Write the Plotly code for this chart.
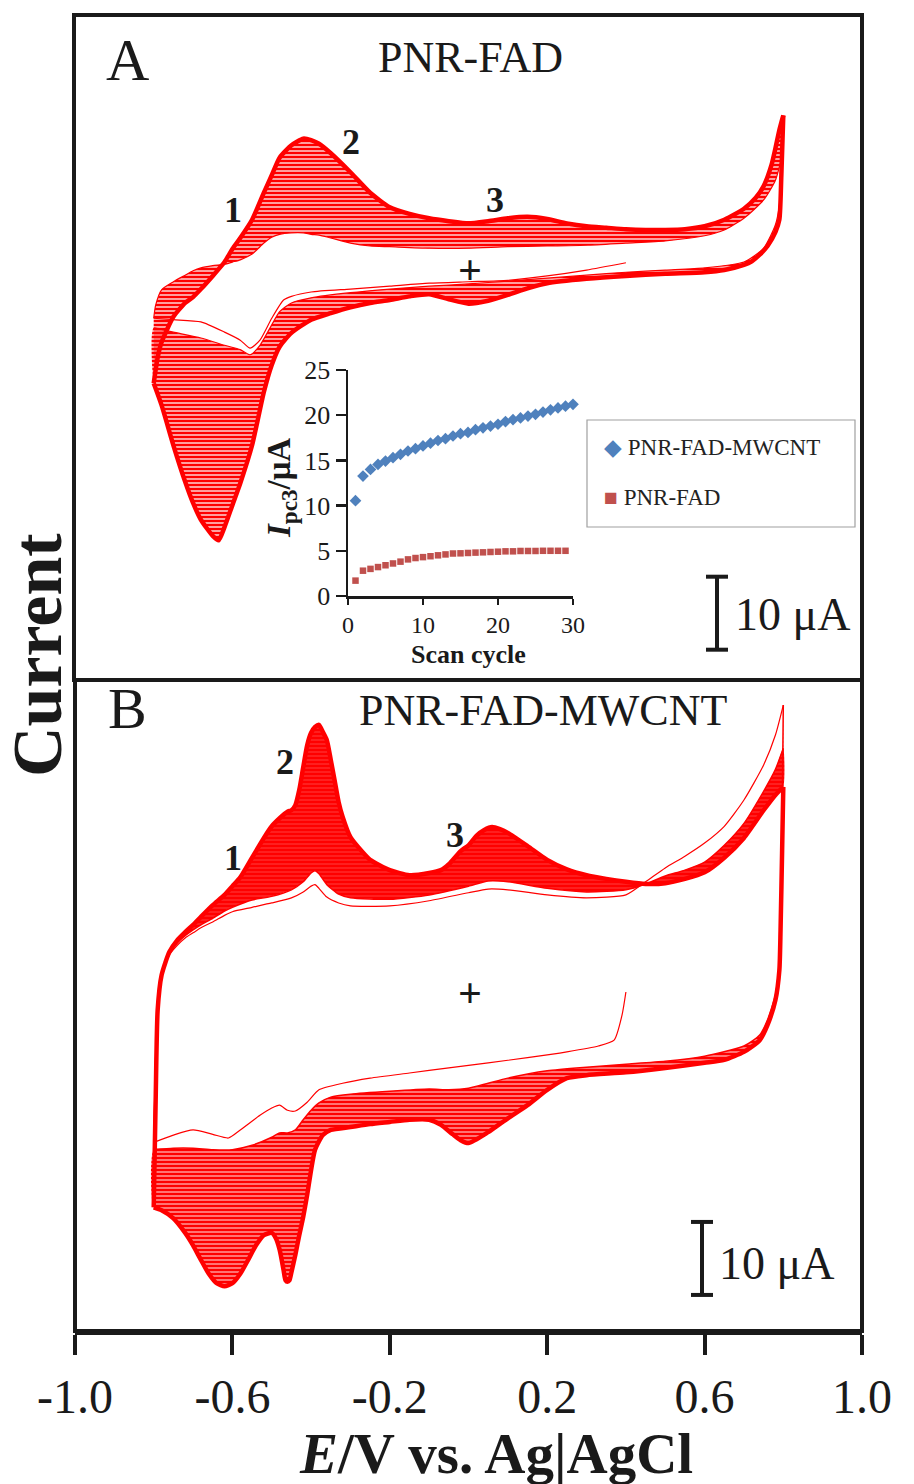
import plotly.graph_objects as go

W, H = 914, 1484
FONT = "Liberation Serif"
RED = "#ff0000"
INK = "#1a1a1a"

# ---------------- Panel A : PNR-FAD (E / V, I / uA) ----------------
A_up30_E = [-0.80, -0.79, -0.78, -0.75, -0.72, -0.70, -0.68, -0.65, -0.62, -0.60, -0.58, -0.55, -0.52, -0.50,
            -0.48, -0.45, -0.42, -0.40, -0.38, -0.35, -0.30, -0.25, -0.20, -0.15, -0.10, -0.05, 0.00, 0.05,
            0.10, 0.15, 0.20, 0.25, 0.30, 0.35, 0.40, 0.45, 0.50, 0.55, 0.60, 0.65, 0.70, 0.73, 0.75, 0.77,
            0.78, 0.79, 0.80]
A_up30_I = [-11.4, -7.9, -5.8, -2.3, -0.4, 0.4, 1.5, 3.3, 5.2, 7.0, 8.5, 11.0, 14.7, 17.1,
            19.5, 21.2, 22.1, 21.9, 21.4, 20.1, 17.5, 14.7, 12.7, 11.8, 11.2, 10.8, 10.5, 10.8,
            11.2, 11.4, 11.1, 10.5, 10.1, 9.9, 9.7, 9.6, 9.6, 9.7, 10.1, 11.0, 12.5, 14.0, 15.6, 18.5,
            20.8, 23.3, 25.3]

A_up1_E = [-0.80, -0.795, -0.78, -0.75, -0.72, -0.70, -0.68, -0.65, -0.62, -0.60, -0.58, -0.55, -0.52, -0.50,
           -0.48, -0.45, -0.42, -0.40, -0.38, -0.35, -0.30, -0.25, -0.20, -0.10, 0.00, 0.10, 0.20, 0.30,
           0.40, 0.50, 0.60, 0.65, 0.70, 0.75, 0.78, 0.80]
A_up1_I = [-2.5, -0.7, 1.4, 2.5, 3.4, 4.0, 4.4, 4.7, 4.9, 5.2, 5.5, 6.3, 7.8, 8.6,
           9.0, 9.2, 9.2, 9.0, 8.9, 8.5, 7.8, 7.4, 7.3, 7.1, 7.1, 7.3, 7.4, 7.5,
           7.8, 8.1, 8.8, 9.6, 11.2, 13.7, 16.4, 20.5]

A_lo30_E = [0.80, 0.795, 0.79, 0.78, 0.76, 0.74, 0.72, 0.70, 0.65, 0.60, 0.50, 0.40, 0.30, 0.20, 0.15,
            0.10, 0.05, 0.00, -0.05, -0.10, -0.15, -0.20, -0.25, -0.30, -0.35, -0.40, -0.45, -0.48, -0.50,
            -0.52, -0.55, -0.58, -0.60, -0.62, -0.635, -0.65, -0.68, -0.70, -0.72, -0.75, -0.78, -0.80]
A_lo30_I = [25.3, 17.0, 11.0, 9.3, 7.4, 6.2, 5.3, 4.8, 4.1, 3.8, 3.6, 3.3, 2.9, 2.3, 1.6,
            0.7, -0.1, -0.5, 0.1, 0.8, 0.5, 0.0, -0.4, -1.0, -1.8, -2.7, -4.5, -6.4, -8.9,
            -12.6, -19.9, -25.1, -28.1, -31.1, -32.9, -32.3, -30.1, -27.8, -24.9, -19.9, -14.4, -11.4]

A_lo2_E = [0.80, 0.79, 0.78, 0.75, 0.70, 0.60, 0.50, 0.40, 0.30, 0.20, 0.10, 0.00, -0.10, -0.20, -0.30,
           -0.40, -0.45, -0.48, -0.50, -0.53, -0.555, -0.58, -0.62, -0.68, -0.75, -0.80]
A_lo2_I = [20.5, 13.0, 10.3, 7.1, 5.2, 4.4, 4.1, 3.8, 3.4, 3.0, 2.6, 2.2, 1.9, 1.5, 1.0,
           0.3, -0.4, -1.6, -3.4, -6.2, -7.5, -6.8, -6.2, -5.2, -4.4, -3.8]

A_lo1_E = [0.40, 0.30, 0.20, 0.10, 0.00, -0.10, -0.20, -0.30, -0.40, -0.45, -0.47, -0.50, -0.53, -0.555,
           -0.58, -0.62, -0.68, -0.75, -0.80]
A_lo1_I = [5.1, 4.1, 3.3, 2.7, 2.5, 2.3, 1.9, 1.5, 1.1, 0.5, 0.0, -2.5, -5.5, -6.6,
           -5.5, -4.4, -3.0, -2.7, -2.5]

# ---------------- Panel B : PNR-FAD-MWCNT ----------------
B_up30_E = [-0.80, -0.795, -0.79, -0.78, -0.76, -0.74, -0.72, -0.70, -0.68, -0.65,
            -0.62, -0.60, -0.58, -0.55, -0.52, -0.50, -0.48, -0.46, -0.45, -0.44,
            -0.43, -0.42, -0.41, -0.40, -0.39, -0.38, -0.37, -0.36, -0.35, -0.34,
            -0.33, -0.32, -0.30, -0.27, -0.25, -0.20, -0.15, -0.10, -0.07, -0.05,
            -0.02, 0.00, 0.02, 0.04, 0.06, 0.08, 0.10, 0.15, 0.20, 0.25,
            0.30, 0.35, 0.40, 0.45, 0.50, 0.55, 0.60, 0.65, 0.70, 0.75,
            0.78, 0.80]
B_up30_I = [-28.4, -13.7, -1.4, 3.4, 6.6, 8.2, 9.3, 10.3, 11.4, 13.0,
            14.4, 15.6, 16.8, 19.5, 22.2, 23.8, 24.9, 25.8, 26.0, 26.7,
            28.8, 31.9, 34.9, 36.6, 37.4, 37.7, 36.7, 35.6, 32.9, 30.0,
            27.1, 25.1, 22.3, 20.3, 19.2, 17.8, 17.1, 17.4, 17.8, 18.6,
            20.4, 21.2, 22.5, 23.3, 23.7, 23.4, 22.9, 21.1, 19.2, 17.9,
            17.1, 16.6, 16.2, 15.9, 16.0, 16.6, 17.5, 19.5, 22.2, 26.0,
            28.1, 29.2]

B_up1_E = [-0.80, -0.795, -0.79, -0.78, -0.76, -0.74, -0.72, -0.70, -0.68, -0.65,
           -0.62, -0.60, -0.55, -0.50, -0.45, -0.42, -0.40, -0.39, -0.38, -0.36,
           -0.33, -0.30, -0.20, -0.10, 0.00, 0.05, 0.10, 0.20, 0.30, 0.40,
           0.45, 0.50, 0.55, 0.60, 0.65, 0.70, 0.75, 0.78, 0.80]
B_up1_I = [-19.5, -6.8, 0.0, 3.4, 6.2, 7.5, 8.5, 9.2, 9.9, 10.7,
           11.6, 12.1, 12.7, 13.3, 14.0, 14.8, 15.6, 15.8, 15.3, 14.1,
           13.3, 12.9, 12.9, 13.6, 14.7, 15.2, 15.1, 14.4, 14.0, 14.4,
           16.2, 18.1, 19.7, 21.5, 23.8, 27.4, 32.2, 36.3, 40.4]

B_up2_E = [-0.80, -0.795, -0.79, -0.78, -0.76, -0.74, -0.72, -0.70, -0.68, -0.65,
           -0.62, -0.60, -0.55, -0.50, -0.45, -0.42, -0.40, -0.39, -0.38, -0.36,
           -0.33, -0.30, -0.20, -0.10, 0.00, 0.05, 0.10, 0.20, 0.30, 0.40,
           0.45, 0.50, 0.55, 0.60, 0.65, 0.70, 0.75, 0.78, 0.80]
B_up2_I = [-20.5, -8.2, -0.7, 3.4, 6.4, 7.8, 8.8, 9.6, 10.3, 11.2,
           12.2, 12.7, 13.7, 14.2, 15.1, 16.2, 17.4, 17.7, 17.3, 15.8,
           14.5, 14.0, 13.8, 14.4, 15.6, 16.3, 16.2, 15.3, 14.8, 15.1,
           15.9, 17.0, 17.8, 18.9, 21.2, 24.2, 28.6, 31.6, 34.5]

B_lo30_E = [0.80, 0.797, 0.793, 0.79, 0.78, 0.76, 0.74, 0.70, 0.65, 0.60,
            0.50, 0.40, 0.30, 0.25, 0.20, 0.15, 0.10, 0.05, 0.00, -0.02,
            -0.04, -0.07, -0.10, -0.15, -0.20, -0.25, -0.30, -0.35, -0.37, -0.39,
            -0.41, -0.42, -0.43, -0.44, -0.45, -0.455, -0.46, -0.465, -0.47, -0.48,
            -0.49, -0.50, -0.52, -0.54, -0.56, -0.58, -0.60, -0.62, -0.64, -0.66,
            -0.68, -0.70, -0.72, -0.75, -0.78, -0.80]
B_lo30_I = [29.2, 20.5, 9.6, 4.1, 0.0, -3.4, -5.5, -7.1, -8.2, -8.6,
            -9.3, -9.9, -10.3, -10.7, -12.3, -14.4, -16.2, -18.1, -19.6, -19.2,
            -18.4, -17.1, -16.4, -16.4, -16.7, -17.0, -17.4, -17.8, -18.5, -20.5,
            -26.7, -29.7, -32.2, -34.9, -37.3, -38.4, -38.6, -38.4, -37.0, -34.2,
            -32.6, -31.9, -32.2, -33.6, -35.6, -37.5, -38.8, -39.2, -38.8, -37.5,
            -35.6, -33.6, -31.9, -29.9, -28.8, -28.4]

B_lo2_E = [0.80, 0.79, 0.78, 0.76, 0.74, 0.70, 0.60, 0.50, 0.40, 0.30,
           0.20, 0.10, 0.05, 0.00, -0.05, -0.10, -0.20, -0.30, -0.35, -0.38,
           -0.40, -0.42, -0.44, -0.46, -0.48, -0.50, -0.55, -0.60, -0.65, -0.70,
           -0.75, -0.80]
B_lo2_I = [40.4, 5.5, 0.7, -2.7, -4.8, -6.3, -7.7, -8.4, -8.8, -9.2,
           -9.7, -10.7, -11.4, -12.1, -12.3, -12.2, -12.5, -12.9, -13.3, -14.1,
           -15.1, -16.4, -17.8, -18.2, -18.2, -18.8, -19.9, -20.5, -20.5, -20.3,
           -20.3, -20.5]

B_lo1_E = [0.40, 0.39, 0.37, 0.33, 0.25, 0.15, 0.05, -0.05, -0.15, -0.25,
           -0.32, -0.38, -0.41, -0.44, -0.46, -0.48, -0.50, -0.53, -0.58, -0.61,
           -0.65, -0.70, -0.75, -0.80]
B_lo1_I = [1.1, -2.1, -5.5, -6.3, -7.1, -7.9, -8.6, -9.3, -10.0, -10.7,
           -11.4, -12.3, -14.0, -15.2, -15.1, -14.4, -14.8, -15.8, -17.8, -18.9,
           -18.4, -17.8, -18.5, -19.5]

# ---------------- Inset : Ipc3 vs scan cycle ----------------
cyc_mwcnt = list(range(1, 31))
ipc3_mwcnt = [10.55, 13.27, 14.0, 14.56, 14.93, 15.3, 15.67, 16.04, 16.3, 16.6,
              16.9, 17.2, 17.4, 17.7, 17.96, 18.1, 18.4, 18.6, 18.8, 19.0,
              19.3, 19.5, 19.7, 19.9, 20.1, 20.35, 20.6, 20.8, 21.0, 21.2]
cyc_fad = list(range(1, 30))
ipc3_fad = [1.7, 2.8, 3.0, 3.2, 3.4, 3.6, 3.8, 4.05, 4.2, 4.3,
            4.4, 4.5, 4.6, 4.7, 4.72, 4.76, 4.8, 4.83, 4.87, 4.9,
            4.94, 4.94, 4.98, 4.98, 4.98, 5.0, 5.0, 5.0, 5.0]

xticks_main = [-1.0, -0.6, -0.2, 0.2, 0.6, 1.0]
xticklabels_main = ["-1.0", "-0.6", "-0.2", "0.2", "0.6", "1.0"]


def px(x):
    return x / W


def py(y):
    return 1 - y / H


fig = go.Figure()


def band(E_out, I_out, E_in, I_in, xa, ya, solidity, bg):
    fig.add_trace(go.Scatter(
        x=list(E_out) + list(E_in)[::-1], y=list(I_out) + list(I_in)[::-1],
        mode="lines", line=dict(width=0, shape="spline", smoothing=0.6),
        fill="toself", fillcolor=bg,
        fillpattern=dict(shape="-", size=4, solidity=solidity, fgcolor=RED, bgcolor=bg, fillmode="replace"),
        xaxis=xa, yaxis=ya, hoverinfo="skip", showlegend=False))


def curve(E, I, xa, ya, w):
    fig.add_trace(go.Scatter(
        x=E, y=I, mode="lines", line=dict(color=RED, width=w, shape="spline", smoothing=0.6),
        xaxis=xa, yaxis=ya, hoverinfo="skip", showlegend=False))


# Panel A
band(A_up30_E, A_up30_I, A_up1_E, A_up1_I, "x", "y", 0.5, "rgba(255,0,0,0.38)")
band(A_lo30_E, A_lo30_I, A_lo2_E, A_lo2_I, "x", "y", 0.5, "rgba(255,0,0,0.38)")
curve(A_up30_E, A_up30_I, "x", "y", 4.5)
curve(A_lo30_E, A_lo30_I, "x", "y", 4.5)
curve(A_up1_E, A_up1_I, "x", "y", 1.2)
curve(A_lo2_E, A_lo2_I, "x", "y", 1.2)
curve(A_lo1_E, A_lo1_I, "x", "y", 1.2)

# Panel B
band(B_up30_E, B_up30_I, B_up2_E, B_up2_I, "x2", "y2", 0.7, "rgba(255,0,0,0.8)")
band(B_lo30_E, B_lo30_I, B_lo2_E, B_lo2_I, "x2", "y2", 0.55, "rgba(255,0,0,0.5)")
curve(B_up30_E, B_up30_I, "x2", "y2", 4.5)
curve(B_lo30_E, B_lo30_I, "x2", "y2", 4.5)
curve(B_up2_E, B_up2_I, "x2", "y2", 1.5)
curve(B_lo2_E, B_lo2_I, "x2", "y2", 1.5)
curve(B_up1_E, B_up1_I, "x2", "y2", 1.2)
curve(B_lo1_E, B_lo1_I, "x2", "y2", 1.2)

# Inset
fig.add_trace(go.Scatter(x=cyc_mwcnt, y=ipc3_mwcnt, mode="markers", name="PNR-FAD-MWCNT",
                         marker=dict(symbol="diamond", size=9, color="#4f81bd"),
                         xaxis="x3", yaxis="y3", cliponaxis=False, showlegend=False))
fig.add_trace(go.Scatter(x=cyc_fad, y=ipc3_fad, mode="markers", name="PNR-FAD",
                         marker=dict(symbol="square", size=6.5, color="#c0504d"),
                         xaxis="x3", yaxis="y3", cliponaxis=False, showlegend=False))

XDOM = [px(75), px(862)]
A_YDOM = [py(680), py(15)]
B_YDOM = [py(1331), py(680)]
A_YR = [-52.05, 39.04]
B_YR = [-45.34, 43.84]

hidden = dict(visible=False, showgrid=False, zeroline=False, automargin=False)
fig.update_layout(
    width=W, height=H, autosize=False,
    margin=dict(l=0, r=0, t=0, b=0, pad=0, autoexpand=False),
    paper_bgcolor="white", plot_bgcolor="rgba(0,0,0,0)",
    font=dict(family=FONT, color=INK),
    showlegend=False,
    xaxis=dict(domain=XDOM, range=[-1, 1], anchor="y", **hidden),
    yaxis=dict(domain=A_YDOM, range=A_YR, anchor="x", **hidden),
    xaxis2=dict(domain=XDOM, range=[-1, 1], anchor="y2", showgrid=False, zeroline=False, automargin=False,
                showline=True, linewidth=4, linecolor=INK, ticks="outside", ticklen=20,
                tickwidth=4, tickcolor=INK, tickvals=xticks_main, ticktext=xticklabels_main,
                tickfont=dict(family=FONT, size=48, color=INK)),
    yaxis2=dict(domain=B_YDOM, range=B_YR, anchor="x2", **hidden),
    xaxis3=dict(domain=[px(348), px(573)], range=[0, 30], anchor="y3", showgrid=False, zeroline=False,
                automargin=False,
                showline=True, linewidth=2.5, linecolor=INK, ticks="outside", ticklen=6, tickwidth=2.5,
                tickcolor=INK, tickvals=[0, 10, 20, 30], tickfont=dict(family=FONT, size=24, color=INK)),
    yaxis3=dict(domain=[py(596), py(370)], range=[0, 25], anchor="x3", showgrid=False, zeroline=False,
                automargin=False,
                showline=True, linewidth=2.5, linecolor=INK, ticks="outside", ticklen=10, tickwidth=2.5,
                tickcolor=INK, tickvals=[0, 5, 10, 15, 20, 25], tickfont=dict(family=FONT, size=26, color=INK)),
)

shapes = [
    dict(type="rect", xref="paper", yref="paper", x0=px(74), x1=px(862), y0=py(680), y1=py(15),
         line=dict(color=INK, width=4)),
    dict(type="rect", xref="paper", yref="paper", x0=px(75), x1=px(862), y0=py(1331), y1=py(680),
         line=dict(color=INK, width=4)),
    # inset legend frame
    dict(type="rect", xref="paper", yref="paper", x0=px(587), x1=px(855), y0=py(527), y1=py(420),
         line=dict(color="#a0a0a0", width=1.2), fillcolor="white", layer="below"),
]
# 10 uA scale bars in data units of each panel
for xc, yref, base in [(717, "y", -47.9), (702, "y2", -40.4)]:
    shapes.append(dict(type="line", xref="paper", yref=yref, x0=px(xc), x1=px(xc), y0=base, y1=base + 10,
                       line=dict(color=INK, width=4)))
    for yy in (base, base + 10):
        shapes.append(dict(type="line", xref="paper", yref=yref, x0=px(xc - 11), x1=px(xc + 11), y0=yy, y1=yy,
                           line=dict(color=INK, width=4)))
fig.update_layout(shapes=shapes)


def ann(text, x, y, size, bold=False, angle=0, xanchor="center", color=INK):
    if bold:
        text = "<b>" + text + "</b>"
    fig.add_annotation(text=text, x=px(x), y=py(y), xref="paper", yref="paper", showarrow=False,
                       xanchor=xanchor, yanchor="middle", textangle=angle,
                       font=dict(family=FONT, size=size, color=color))


ann("A", 127, 60, 60)
ann("PNR-FAD", 470, 58, 44)
ann("1", 233, 210, 36, bold=True)
ann("2", 351, 142, 36, bold=True)
ann("3", 495, 200, 36, bold=True)
ann("+", 470, 270, 42, bold=True)
ann("10 μA", 792, 614, 46)

ann("B", 127, 708, 58)
ann("PNR-FAD-MWCNT", 543, 710, 44)
ann("1", 233, 858, 36, bold=True)
ann("2", 285, 762, 36, bold=True)
ann("3", 455, 835, 36, bold=True)
ann("+", 470, 993, 42, bold=True)
ann("10 μA", 776, 1263, 46)

ann("Current", 37, 655, 70, bold=True, angle=-90)
ann("<i>E</i>/V vs. Ag|AgCl", 496, 1453, 57, bold=True)

ann("Scan cycle", 468, 654, 26, bold=True)
ann("<i>I</i><sub>pc3</sub>/μA", 282, 488, 33, bold=True, angle=-90)
ann("<span style='color:#4f81bd'>◆</span> PNR-FAD-MWCNT", 602, 447, 23, xanchor="left", color="#222222")
ann("<span style='color:#c0504d'>■</span> PNR-FAD", 602, 497, 23, xanchor="left", color="#222222")

fig.write_html("out.html", config={"displayModeBar": False, "staticPlot": True},
               post_script="document.body.style.margin='0';document.body.style.padding='0';")
